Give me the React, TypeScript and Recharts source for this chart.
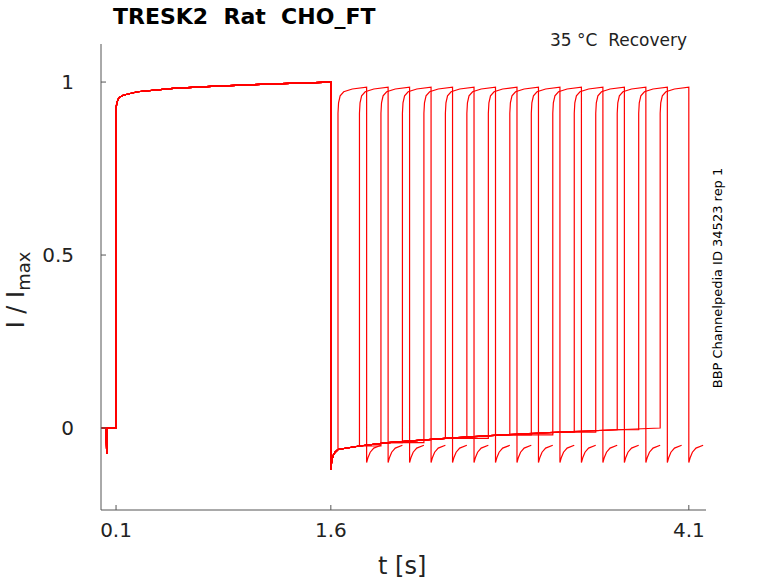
import React from 'react';
import { LineChart, Line, XAxis, YAxis } from 'recharts';

// first pulse (shared by all sweeps): [t, I/Imax]
const prePulse: [number, number][] = [
  [0, 0], [0.03, 0], [0.035, -0.075], [0.04, 0], [0.1, 0], [0.1, 0.92], [0.105, 0.94],
  [0.12, 0.955], [0.15, 0.962], [0.25, 0.972], [0.5, 0.982], [0.8, 0.988], [1.2, 0.995], [1.6, 1.0],
];
// holding interval after the first pulse
const interval: [number, number][] = [
  [1.6, 1.0], [1.6, -0.12], [1.605, -0.1], [1.615, -0.08], [1.63, -0.07], [1.65, -0.062],
  [1.8, -0.052], [2.0, -0.042], [2.4, -0.03], [2.8, -0.02], [3.2, -0.012], [3.6, -0.005], [3.9, 0],
];
// second pulse start times [s]
const stepTimes = [1.65, 1.8, 1.95, 2.1, 2.25, 2.4, 2.55, 2.7, 2.85, 3.0, 3.15, 3.3, 3.45, 3.6, 3.75, 3.9];
// second pulse shape, relative time
const pulseShape: [number, number][] = [
  [0, 0.91], [0.004, 0.94], [0.015, 0.96], [0.04, 0.972], [0.1, 0.98], [0.2, 0.985],
];
// tail after second pulse, relative time
const hookShape: [number, number][] = [
  [0, -0.1], [0.01, -0.085], [0.025, -0.07], [0.05, -0.058], [0.1, -0.05],
];

const buildSweep = (ts: number) => {
  const pts: { t: number; v: number }[] = [];
  prePulse.forEach(([t, v]) => pts.push({ t, v }));
  interval.filter(([t]) => t <= ts).forEach(([t, v]) => pts.push({ t, v }));
  const last = pts[pts.length - 1].v;
  pts.push({ t: ts, v: last });
  pulseShape.forEach(([t, v]) => pts.push({ t: ts + t, v }));
  const end = ts + 0.2;
  hookShape.forEach(([t, v]) => pts.push({ t: end + t, v }));
  return pts;
};

const sweeps = stepTimes.map(buildSweep);

const txt: React.CSSProperties = { position: 'absolute', fontFamily: 'DejaVu Sans, sans-serif', color: '#222', whiteSpace: 'nowrap' };

export default function App() {
  return (
    <div style={{ position: 'absolute', left: 0, top: 0, width: 778, height: 583, background: '#fff' }}>
      <LineChart width={778} height={583} margin={{ top: 44, right: 72, bottom: 33, left: 41 }}>
        <XAxis
          type="number" dataKey="t" domain={[-0.005, 4.22]} ticks={[0.1, 1.6, 4.1]} allowDataOverflow
          height={40} tickSize={-5} tickMargin={18} stroke="#555"
          tick={{ fontSize: 20, fill: '#222', fontFamily: 'DejaVu Sans' }}
        />
        <YAxis
          type="number" domain={[-0.237, 1.11]} ticks={[0, 0.5, 1]} allowDataOverflow
          width={60} tickSize={-5} tickMargin={32} stroke="#555"
          tick={{ fontSize: 20, fill: '#222', fontFamily: 'DejaVu Sans' }}
        />
        {sweeps.map((d, i) => (
          <Line key={i} data={d} dataKey="v" type="linear" stroke="#ff0000" strokeWidth={1.2}
            dot={false} isAnimationActive={false} />
        ))}
      </LineChart>
      <div style={{ ...txt, left: 113, top: 4, fontSize: 22, fontWeight: 'bold', color: '#000' }}>TRESK2&nbsp; Rat&nbsp; CHO_FT</div>
      <div style={{ ...txt, left: 550, top: 30, fontSize: 17 }}>35 °C&nbsp; Recovery</div>
      <div style={{ ...txt, left: 378, top: 552, fontSize: 24 }}>t [s]</div>
      <div style={{ ...txt, left: 18, top: 290, fontSize: 24, transform: 'translate(-50%, -50%) rotate(-90deg)' }}>
        I / I<sub style={{ fontSize: 18 }}>max</sub>
      </div>
      <div style={{ ...txt, left: 717, top: 278, fontSize: 13, color: '#000', transform: 'translate(-50%, -50%) rotate(-90deg)' }}>
        BBP Channelpedia ID 34523 rep 1
      </div>
    </div>
  );
}
